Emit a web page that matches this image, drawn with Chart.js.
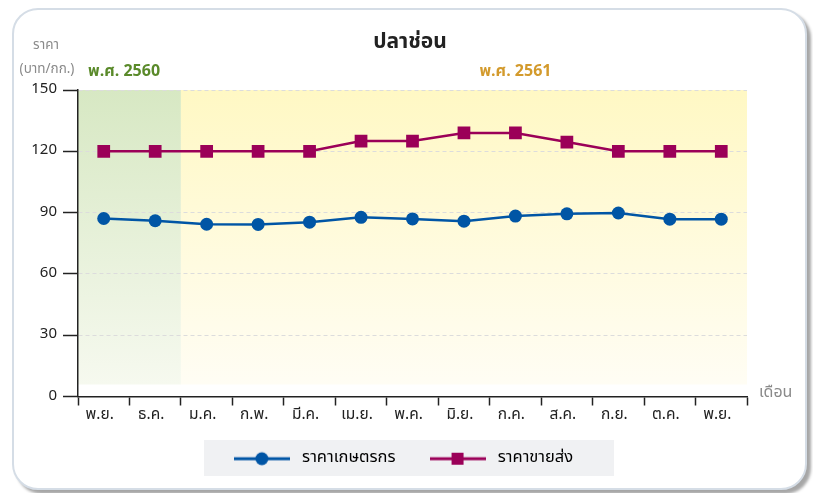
<!DOCTYPE html>
<html>
<head>
<meta charset="utf-8">
<script src="https://cdn.jsdelivr.net/npm/chart.js@4.4.0/dist/chart.umd.min.js"></script>
<style>
  html, body { margin: 0; padding: 0; background: #ffffff; }
  #card {
    position: absolute; left: 12px; top: 8px; width: 791px; height: 478px;
    border: 2px solid #d5dde6; border-radius: 26px; background: #fff;
    box-shadow: 4px 4px 3px rgba(0,0,0,0.35);
  }
  #wrap { position: absolute; left: 0; top: 0; width: 813px; height: 493px; }
</style>
</head>
<body>
<div id="card"></div>
<div id="wrap"><canvas id="grafica" width="813" height="493"></canvas></div>
<script>
// datos del gráfico (ราคาปลาช่อน พ.ย. 2560 - พ.ย. 2561)
const meses = ['พ.ย.', 'ธ.ค.', 'ม.ค.', 'ก.พ.', 'มี.ค.', 'เม.ย.', 'พ.ค.', 'มิ.ย.', 'ก.ค.', 'ส.ค.', 'ก.ย.', 'ต.ค.', 'พ.ย.'];
const precioAgricultor = [87.1, 86.0, 84.3, 84.2, 85.3, 87.7, 86.9, 85.8, 88.3, 89.4, 89.8, 86.8, 86.8];
const precioMayorista = [120, 120, 120, 120, 120, 125, 125, 129, 129, 124.5, 120, 120, 120];
const ticksY = [0, 30, 60, 90, 120, 150];

const FUENTE = "Tahoma, 'Noto Sans Thai', 'Noto Sans', 'DejaVu Sans', sans-serif";
const AZUL = '#0055a5';
const ROJO = '#9b0058';

/**
 * Crea la imagen de leyenda: línea con marcador en el centro.
 */
function iconoLeyenda(color, forma) {
  const c = document.createElement('canvas');
  c.width = 56; c.height = 16;
  const g = c.getContext('2d');
  g.strokeStyle = color; g.lineWidth = 3;
  g.beginPath(); g.moveTo(0, 8); g.lineTo(56, 8); g.stroke();
  g.fillStyle = color;
  if (forma === 'circle') {
    g.beginPath(); g.arc(28, 8, 6.5, 0, Math.PI * 2); g.fill();
  } else {
    g.fillRect(22, 2, 12, 12);
  }
  return c;
}

// fondo verde (2560) y amarillo (2561) con degradado
const fondoPlugin = {
  id: 'fondo',
  afterLayout(chart) {
    // la leyenda se centra en toda la tarjeta, no sólo en el área sin el margen derecho
    const lg = chart.legend;
    if (lg) { lg.left += 28; lg.right += 28; }
  },
  beforeDraw(chart) {
    const { ctx, chartArea: a, scales: { x } } = chart;
    const corte = (x.getPixelForValue(1) + x.getPixelForValue(2)) / 2;
    const fin = a.bottom - 12;
    ctx.save();
    let gr = ctx.createLinearGradient(0, a.top, 0, fin);
    gr.addColorStop(0, '#d7e8c3'); gr.addColorStop(1, '#f6f9ef');
    ctx.fillStyle = gr;
    ctx.fillRect(a.left, a.top, corte - a.left, fin - a.top);
    gr = ctx.createLinearGradient(0, a.top, 0, fin);
    gr.addColorStop(0, '#fff8c4'); gr.addColorStop(1, '#fffdf4');
    ctx.fillStyle = gr;
    ctx.fillRect(corte, a.top, a.right - corte, fin - a.top);

    // caja gris detrás de la leyenda
    ctx.fillStyle = '#f0f1f3';
    ctx.fillRect(204, 440, 410, 36);
    ctx.restore();
  },
  afterDraw(chart) {
    const { ctx, chartArea: a, scales: { x } } = chart;
    ctx.save();
    ctx.textBaseline = 'middle';
    ctx.fillStyle = '#222';
    ctx.font = "bold 21px " + FUENTE;
    ctx.textAlign = 'center';
    ctx.fillText('ปลาช่อน', 410, 44);
    ctx.fillStyle = '#8a8a8a';
    ctx.font = "13.5px " + FUENTE;
    ctx.fillText('ราคา', 46, 46);
    ctx.fillText('(บาท/กก.)', 47, 70);
    ctx.font = "16px " + FUENTE;
    ctx.textAlign = 'left';
    ctx.fillText('เดือน', a.right + 12, a.bottom - 3);
    ctx.font = "bold 16px " + FUENTE;
    ctx.fillStyle = '#5a8a2a';
    ctx.fillText('พ.ศ. 2560', a.left + 10, 73);
    ctx.fillStyle = '#d39a2c';
    ctx.textAlign = 'center';
    ctx.fillText('พ.ศ. 2561', x.getPixelForValue(8), 73);
    ctx.restore();
  }
};

const ctx = document.getElementById('grafica').getContext('2d');
new Chart(ctx, {
  type: 'line',
  data: {
    labels: meses,
    datasets: [
      { label: 'ราคาเกษตรกร', data: precioAgricultor, borderColor: AZUL, backgroundColor: AZUL, borderWidth: 2.5,
        pointRadius: 6.5, pointHoverRadius: 6.5, pointStyle: 'circle', pointBorderWidth: 0, tension: 0 },
      { label: 'ราคาขายส่ง', data: precioMayorista, borderColor: ROJO, backgroundColor: ROJO, borderWidth: 2.5,
        pointRadius: 9, pointHoverRadius: 9, pointStyle: 'rect', pointBorderWidth: 0, tension: 0 }
    ]
  },
  options: {
    responsive: false,
    animation: false,
    layout: { padding: { top: 90, right: 66, left: 0, bottom: 16 } },
    plugins: {
      title: { display: false },
      tooltip: { enabled: false },
      legend: {
        display: true,
        position: 'bottom',
        labels: {
          usePointStyle: true,
          pointStyleWidth: 64,
          padding: 30,
          color: '#333',
          font: { family: FUENTE, size: 16.5 },
          generateLabels(chart) {
            return chart.data.datasets.map((d, i) => ({
              text: d.label,
              pointStyle: iconoLeyenda(d.borderColor, d.pointStyle),
              fillStyle: d.borderColor,
              strokeStyle: d.borderColor,
              lineWidth: 0,
              hidden: false,
              datasetIndex: i
            }));
          }
        }
      }
    },
    scales: {
      x: {
        offset: true,
        grid: { offset: true, drawOnChartArea: false, drawTicks: true, tickLength: 9, tickColor: '#222', tickWidth: 1.5 },
        border: { color: '#222', width: 1.5 },
        ticks: { color: '#222', font: { family: FUENTE, size: 15.5 }, padding: 1, maxRotation: 0, autoSkip: false, labelOffset: -4 },
        afterFit(s) { s.height = 24; }
      },
      y: {
        min: 0, max: 150,
        afterBuildTicks(s) { s.ticks = ticksY.map(v => ({ value: v })); },
        grid: { color: '#dcdcdc', drawTicks: true, tickLength: 15, tickColor: '#222', tickWidth: 1.5, tickBorderDash: [] },
        border: { color: '#222', width: 1.5, dash: [4, 3] },
        ticks: { color: '#222', font: { family: FUENTE, size: 15 }, padding: 6 },
        afterFit(s) { s.width = 78; }
      }
    }
  },
  plugins: [fondoPlugin]
});
</script>
</body>
</html>
